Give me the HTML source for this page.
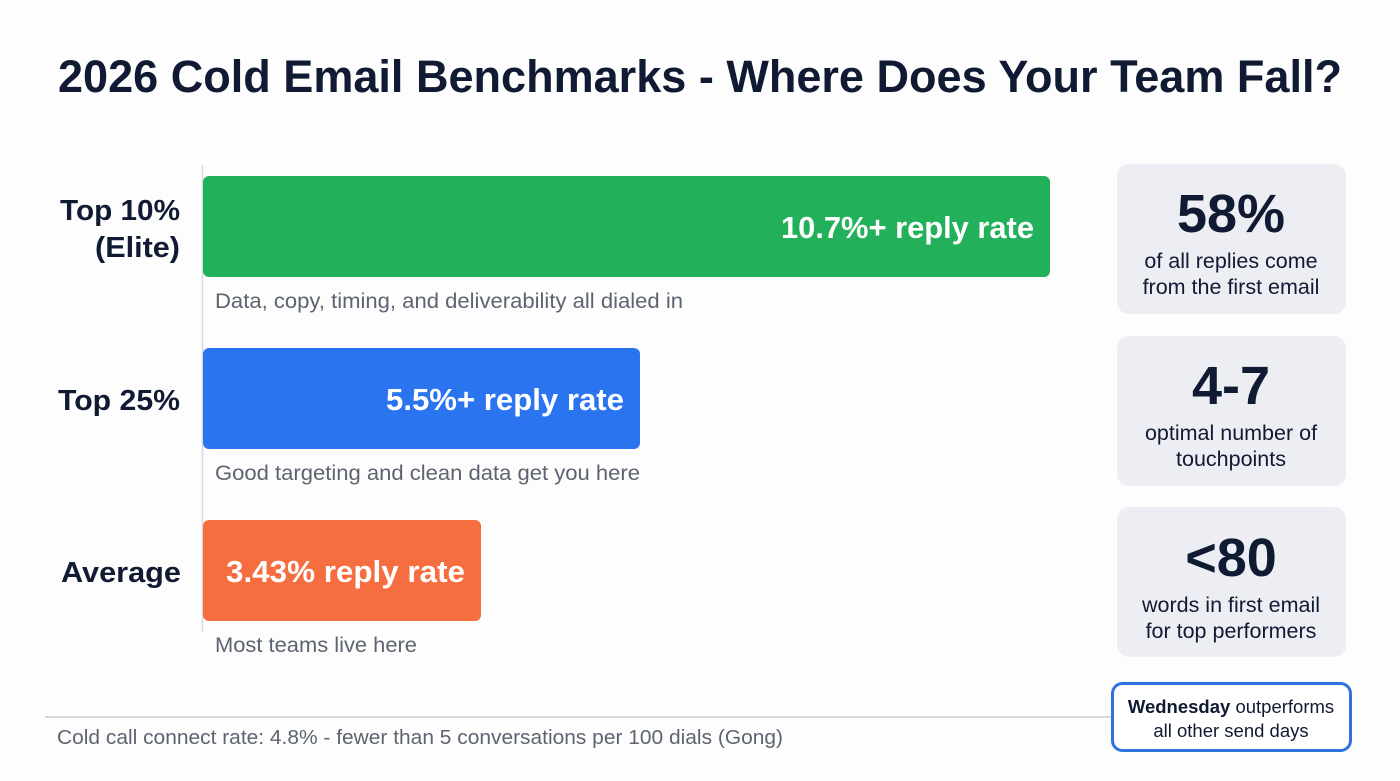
<!DOCTYPE html>
<html><head><meta charset="utf-8"><style>
html,body{margin:0;padding:0;background:#fdfdfd;}
svg{display:block;font-family:"Liberation Sans",sans-serif;}
</style></head><body>
<svg width="1400" height="781" viewBox="0 0 1400 781">
<rect width="1400" height="781" fill="#fdfdfd"/>
<text x="58" y="92" font-size="45" font-weight="bold" fill="#111a33" textLength="1284" lengthAdjust="spacingAndGlyphs">2026 Cold Email Benchmarks - Where Does Your Team Fall?</text>
<line x1="202.5" y1="165" x2="202.5" y2="632" stroke="#d5d8de" stroke-width="1.5"/>
<rect x="203" y="176" width="847" height="101" rx="6" fill="#23b05a"/>
<rect x="203" y="348" width="437" height="101" rx="6" fill="#2a74ef"/>
<rect x="203" y="520" width="278" height="101" rx="6" fill="#f66d3f"/>
<g font-weight="bold" fill="#fff" font-size="31">
<text x="781" y="238" textLength="253" lengthAdjust="spacingAndGlyphs">10.7%+ reply rate</text>
<text x="386" y="410" textLength="238" lengthAdjust="spacingAndGlyphs">5.5%+ reply rate</text>
<text x="226" y="582" textLength="239" lengthAdjust="spacingAndGlyphs">3.43% reply rate</text>
</g>
<g font-weight="bold" fill="#111a33" font-size="29">
<text x="60" y="220" textLength="120" lengthAdjust="spacingAndGlyphs">Top 10%</text>
<text x="95" y="257" textLength="85" lengthAdjust="spacingAndGlyphs">(Elite)</text>
<text x="58" y="410" textLength="122" lengthAdjust="spacingAndGlyphs">Top 25%</text>
<text x="61" y="582" textLength="120" lengthAdjust="spacingAndGlyphs">Average</text>
</g>
<g fill="#5d6470" font-size="21">
<text x="215" y="308" textLength="468" lengthAdjust="spacingAndGlyphs">Data, copy, timing, and deliverability all dialed in</text>
<text x="215" y="480" textLength="425" lengthAdjust="spacingAndGlyphs">Good targeting and clean data get you here</text>
<text x="215" y="652" textLength="202" lengthAdjust="spacingAndGlyphs">Most teams live here</text>
</g>
<line x1="45" y1="717" x2="1112" y2="717" stroke="#c8ccd3" stroke-width="1.5"/>
<text x="57" y="744" fill="#5d6470" font-size="20.5" textLength="726" lengthAdjust="spacingAndGlyphs">Cold call connect rate: 4.8% - fewer than 5 conversations per 100 dials (Gong)</text>
<g>
<rect x="1117" y="164" width="229" height="150" rx="12" fill="#eceef3"/>
<rect x="1117" y="336" width="229" height="150" rx="12" fill="#eceef3"/>
<rect x="1117" y="507" width="229" height="150" rx="12" fill="#eceef3"/>
</g>
<g text-anchor="middle" fill="#111a33">
<text x="1231" y="232" font-size="54" font-weight="bold">58%</text>
<text x="1231" y="268" font-size="21.5">of all replies come</text>
<text x="1231" y="294" font-size="21.5">from the first email</text>
<text x="1231" y="404" font-size="54" font-weight="bold">4-7</text>
<text x="1231" y="440" font-size="21.5">optimal number of</text>
<text x="1231" y="466" font-size="21.5">touchpoints</text>
<text x="1231" y="576" font-size="54" font-weight="bold">&lt;80</text>
<text x="1231" y="612" font-size="21.5">words in first email</text>
<text x="1231" y="638" font-size="21.5">for top performers</text>
</g>
<rect x="1112.5" y="683.5" width="238" height="67" rx="10" fill="#fff" stroke="#2f72de" stroke-width="3"/>
<g text-anchor="middle" fill="#111a33" font-size="18.5">
<text x="1231" y="713"><tspan font-weight="bold">Wednesday</tspan> outperforms</text>
<text x="1231" y="737">all other send days</text>
</g>
</svg>
</body></html>
